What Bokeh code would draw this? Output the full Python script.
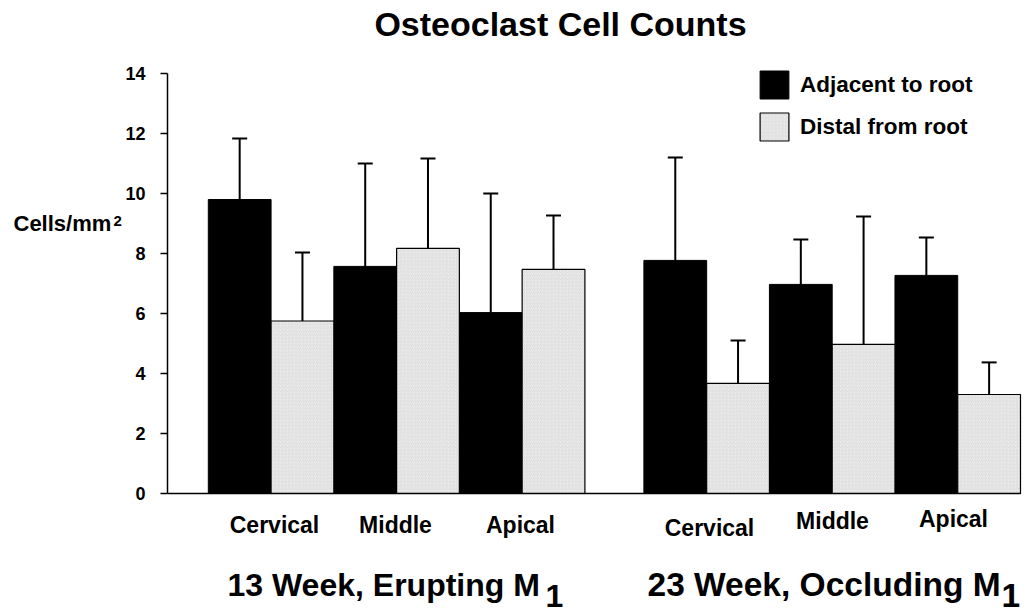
from bokeh.plotting import figure
from bokeh.models import (ColumnDataSource, Range1d, Whisker, TeeHead, Label,
                          Legend, LegendItem, FixedTicker)
from bokeh.embed import file_html
from bokeh.resources import INLINE

# ---- data ----
regions = ["Cervical", "Middle", "Apical"]
group_titles = ["13 Week, Erupting M", "23 Week, Occluding M"]
series = ["Adjacent to root", "Distal from root"]

adj_13 = [9.8, 7.57, 6.03]
adj_13_sd = [2.03, 3.43, 3.97]
dist_13 = [5.75, 8.17, 7.47]
dist_13_sd = [2.28, 3.0, 1.8]

adj_23 = [7.77, 6.97, 7.27]
adj_23_sd = [3.43, 1.5, 1.26]
dist_23 = [3.67, 4.97, 3.3]
dist_23_sd = [1.43, 4.26, 1.07]

y_ticks = [0, 2, 4, 6, 8, 10, 12, 14]

FONT = "Liberation Sans"

# ---- layout (bar units) ----
lead = 0.65
gap = 0.94
span = lead + 12 + gap
group_start = [lead, lead + 6 + gap]

W, H = 1029, 614
AX_X, AX_Y = 167, 493          # canvas position of the axes origin
UNIT_X = 853 / span            # px per bar unit
UNIT_Y = 30                    # px per cell/mm2

def dx(px):
    return (px - AX_X) / UNIT_X

def dy(py):
    return (AX_Y - py) / UNIT_Y

def centers(offset):
    return [group_start[g] + 2 * i + offset + 0.5 for g in range(2) for i in range(3)]

adj_vals = adj_13 + adj_23
adj_sd = adj_13_sd + adj_23_sd
dist_vals = dist_13 + dist_23
dist_sd = dist_13_sd + dist_23_sd

adj_src = ColumnDataSource(dict(x=centers(0), top=adj_vals,
                                upper=[v + s for v, s in zip(adj_vals, adj_sd)]))
dist_src = ColumnDataSource(dict(x=centers(1), top=dist_vals,
                                 upper=[v + s for v, s in zip(dist_vals, dist_sd)]))

p = figure(width=W, height=H, output_backend="svg", toolbar_location=None,
           x_range=Range1d(dx(0), dx(W)), y_range=Range1d(dy(H), dy(0)),
           min_border=0, outline_line_color=None, title=None)
p.xgrid.visible = False
p.ygrid.visible = False
p.background_fill_color = "white"

r_adj = p.vbar(x="x", top="top", bottom=0, width=1.0, source=adj_src,
               fill_color="black", line_color="black", line_width=1)
r_dist = p.vbar(x="x", top="top", bottom=0, width=1.0, source=dist_src,
                fill_color="#efefef", line_color="black", line_width=1.2,
                hatch_pattern="/", hatch_color="#c4c4c4", hatch_scale=3.5,
                hatch_weight=0.5)

for src in (adj_src, dist_src):
    p.add_layout(Whisker(base="x", lower="top", upper="upper", source=src,
                         dimension="height", lower_head=None,
                         upper_head=TeeHead(size=15, line_width=2, line_color="black"),
                         line_width=2, line_color="black"))

# axes (drawn at fixed locations inside the canvas)
p.yaxis.fixed_location = 0
p.yaxis.bounds = (0, 14)
p.yaxis.ticker = FixedTicker(ticks=y_ticks)
p.yaxis.axis_line_width = 1.5
p.yaxis.major_tick_out = 7
p.yaxis.major_tick_in = 0
p.yaxis.major_tick_line_width = 1.5
p.yaxis.minor_tick_line_color = None
p.yaxis.major_label_standoff = 15
p.yaxis.major_label_text_font = FONT
p.yaxis.major_label_text_font_style = "bold"
p.yaxis.major_label_text_font_size = "18px"
p.yaxis.major_label_text_color = "black"

p.xaxis.fixed_location = 0
p.xaxis.bounds = (0, span)
p.xaxis.ticker = FixedTicker(ticks=[])
p.xaxis.axis_line_width = 1.5
p.xaxis.major_tick_line_color = None
p.xaxis.minor_tick_line_color = None
p.xaxis.major_label_text_font_size = "0px"


def add_label(text, px, baseline, size, align="center"):
    # baseline given in canvas px; empirical 0.4em correction for text placement
    p.add_layout(Label(x=dx(px), y=dy(baseline - 0.4 * size), text=text,
                       text_font=FONT, text_font_style="bold",
                       text_font_size=f"{size}px", text_align=align,
                       text_baseline="alphabetic", text_color="black"))

add_label("Osteoclast Cell Counts", 560, 37, 34)
add_label("Cells/mm", 13, 232, 22, align="left")
add_label("2", 113, 226, 15, align="left")

label_centers_px = [274, 395, 520, 709, 832, 953]
label_baselines = [534, 534, 534, 537, 530, 528]
for k, name in enumerate(regions * 2):
    add_label(name, label_centers_px[k], label_baselines[k], 23)

title_left = [227, 647]
title_size = [32, 33.5]
sub_left = [545, 1001]
for g in range(2):
    add_label(group_titles[g], title_left[g], 597, title_size[g], align="left")
    add_label("1", sub_left[g], 608, title_size[g], align="left")

legend = Legend(items=[LegendItem(label=series[0], renderers=[r_adj]),
                       LegendItem(label=series[1], renderers=[r_dist])],
                location=(756, H - 144), glyph_width=36, glyph_height=35,
                spacing=7, label_standoff=8, padding=0, margin=0,
                border_line_color=None, background_fill_alpha=0,
                label_text_font=FONT, label_text_font_style="bold",
                label_text_font_size="22.5px", label_text_color="black")
p.add_layout(legend)

open("out.html", "w").write(file_html(p, INLINE))
